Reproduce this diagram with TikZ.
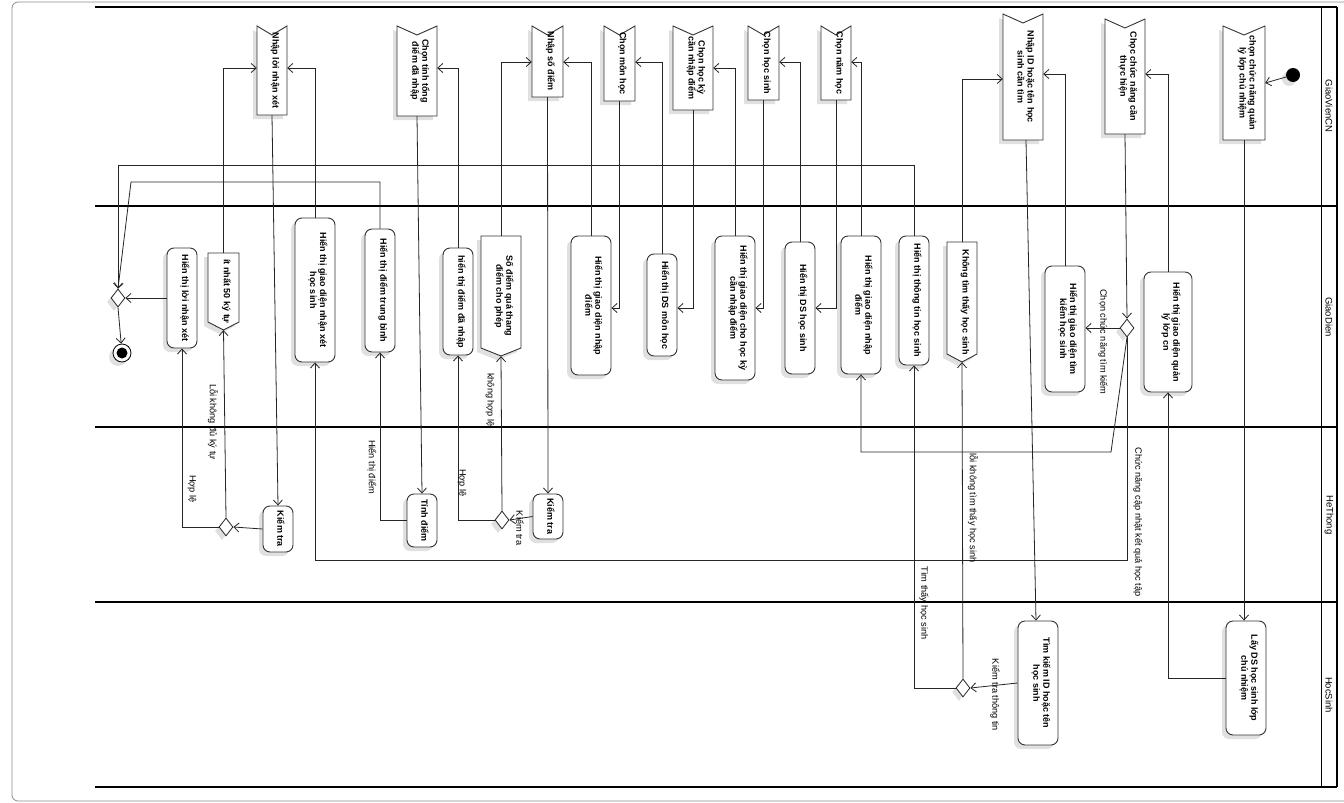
\documentclass[tikz,border=0pt]{standalone}
\usepackage{fontspec}
\setmainfont{Liberation Sans}
\usetikzlibrary{arrows.meta,shapes.geometric,shadows,calc}

\tikzset{
  lane/.style={line width=1.6pt, draw=black},
  shadowed/.style={drop shadow={shadow xshift=-4pt, shadow yshift=-4pt, fill=black!12, opacity=1}},
  act/.style={draw=black!80, line width=0.9pt, rounded corners=7pt, fill=white, shadowed, inner sep=0pt},
  shadefill/.style={fill=black!12},
  sigline/.style={draw=black!80, line width=0.9pt, fill=white},
  ntext/.style={xshift=3pt, rotate=-90, align=center, inner sep=0pt, font=\bfseries\fontsize{9}{10}\selectfont},
  etext/.style={rotate=-90, inner sep=0pt, font=\fontsize{9.2}{10}\selectfont},
  lanetext/.style={rotate=-90, inner sep=0pt, font=\fontsize{9.5}{10}\selectfont},
  decision/.style={diamond, draw=black!85, line width=0.8pt, fill=white, inner sep=0pt,
    minimum width=14pt, minimum height=18pt, shadowed},
  conn/.style={draw=black!85, line width=0.8pt, -{Straight Barb[length=5pt,width=9pt]}},
}

% rounded action: name, cx, cy, width, height, text
\newcommand\actbox[6]{%
  \node[act, minimum width=#4, minimum height=#5, label={[ntext]center:{#6}}] (#1) at (#2,#3) {};}

% accept-event shape, notched at the top: name, cx, cy, width, height, text
\newcommand\acceptsig[6]{%
  \fill[shadefill] ({#2-#4/2-4},{#3-#5/2+4}) -- ({#2-4},{#3-#5/2+13}) -- ({#2+#4/2-4},{#3-#5/2+4})
     -- ({#2+#4/2-4},{#3+#5/2+4}) -- ({#2-#4/2-4},{#3+#5/2+4}) -- cycle;
  \draw[sigline] ({#2-#4/2},{#3-#5/2}) -- ({#2},{#3-#5/2+9}) -- ({#2+#4/2},{#3-#5/2})
     -- ({#2+#4/2},{#3+#5/2}) -- ({#2-#4/2},{#3+#5/2}) -- cycle;
  \node[inner sep=0pt, minimum width=#4, minimum height=#5, label={[ntext]center:{#6}}] (#1) at (#2,#3) {};}

% send-signal shape, pointed at the bottom: name, cx, cy, width, height, text
\newcommand\sendsig[6]{%
  \fill[shadefill] ({#2-#4/2-4},{#3-#5/2+4}) -- ({#2+#4/2-4},{#3-#5/2+4}) -- ({#2+#4/2-4},{#3+#5/2-8+4})
     -- ({#2-4},{#3+#5/2+4}) -- ({#2-#4/2-4},{#3+#5/2-8+4}) -- cycle;
  \draw[sigline] ({#2-#4/2},{#3-#5/2}) -- ({#2+#4/2},{#3-#5/2}) -- ({#2+#4/2},{#3+#5/2-8})
     -- ({#2},{#3+#5/2}) -- ({#2-#4/2},{#3+#5/2-8}) -- cycle;
  \node[inner sep=0pt, minimum width=#4, minimum height=#5, label={[ntext]center:{#6}}] (#1) at (#2,#3) {};}

\begin{document}
\begin{tikzpicture}[x=1pt, y=-1pt]
\useasboundingbox (0,0) rectangle (1344,803);
\fill[white] (0,0) rectangle (1344,803);
\draw[black!45, line width=0.8pt, rounded corners=6pt] (12,2) rectangle (1370,801);

% swimlanes
\draw[lane] (95,7) -- (1337,7);
\draw[lane] (95,206) -- (1337,206);
\draw[lane] (95,427) -- (1337,427);
\draw[lane] (95,602) -- (1337,602);
\draw[lane] (95,787) -- (1337,787);
\draw[lane] (1337,7) -- (1337,787);
\draw[line width=1pt] (1321,7) -- (1321,787);
\node[lanetext] (lnGV) at (1329,106) {GiaoVienCN};
\node[lanetext] (lnGD) at (1329,317) {GiaoDien};
\node[lanetext] (lnHT) at (1329,515) {HeThong};
\node[lanetext] (lnHS) at (1329,695) {HocSinh};

% GiaoVienCN
\acceptsig{A1}{272}{70.5}{30}{89}{Nhập lời nhận xét}
\acceptsig{A2}{417}{71}{40}{90}{Chọn tính tổng\\điểm đã nhập}
\acceptsig{A3}{547.5}{61.5}{31}{71}{Nhập số điểm}
\acceptsig{A4}{619.5}{63.5}{31}{75}{Chọn môn học}
\acceptsig{A5}{693}{68}{40}{84}{Chọn học kỳ\\cần nhập điểm}
\acceptsig{A6}{763.5}{63}{31}{74}{Chọn học sinh}
\acceptsig{A7}{836}{63}{30}{74}{Chọn năm học}
\acceptsig{A8}{1023}{77}{40}{126}{Nhập ID hoặc tên học\\sinh cần tìm}
\acceptsig{A9}{1125}{76.5}{40}{115}{Chọc chức năng cần\\thực hiện}
\acceptsig{A10}{1244}{83}{42}{114}{chọn chức năng quản\\lý lớp chủ nhiệm}
\node[circle, fill=black, minimum size=14pt, inner sep=0pt, shadowed] (init) at (1293,75) {};

% GiaoDien
\node[decision] (M1) at (118,298) {};
\node[circle, draw=black, line width=0.8pt, fill=white, minimum size=18pt, inner sep=0pt, shadowed,
  path picture={\fill[black] (path picture bounding box.center) circle (5.5pt);}] (fin) at (122,353) {};
\actbox{B1}{182}{298}{30}{100}{Hiển thị lời nhận xét}
\sendsig{S1}{223.5}{291.5}{31}{77}{ít nhất 50 ký tự}
\actbox{B2}{315}{290}{40}{144}{Hiển thị giao diện nhận xét\\học sinh}
\actbox{B3}{380}{290.5}{30}{123}{Hiển thị điểm trung bình}
\actbox{B4}{458}{301.5}{30}{107}{hiển thị điểm đã nhập}
\sendsig{S2}{501}{296}{40}{120}{Số điểm quá thang\\điểm cho phép}
\actbox{B5}{591}{305.5}{40}{139}{Hiển thị giao diện nhập\\điểm}
\actbox{B6}{662}{305}{30}{102}{Hiển thị DS môn học}
\actbox{B7}{735}{308}{40}{144}{Hiển thị giao diện cho học kỳ\\cần nhập điểm}
\actbox{B8}{800}{308}{30}{132}{Hiển thị DS học sinh}
\actbox{B9}{861}{305}{40}{138}{Hiển thị giao diện nhập\\điểm}
\actbox{B10}{914}{300.5}{30}{129}{Hiển thị thông tin học sinh}
\sendsig{S3}{962}{302}{30}{120}{Không tìm thấy học sinh}
\actbox{B11}{1065}{329}{40}{126}{Hiển thị giao diện tìm\\kiếm học sinh}
\node[decision] (D2) at (1127,328) {};
\actbox{B12}{1168}{332}{48}{120}{Hiển thị giao diện quản\\lý lớp cn}

% HeThong
\actbox{C1}{278}{529}{30}{46}{Kiểm tra}
\node[decision] (D3) at (226,527) {};
\actbox{C2}{422}{520.5}{30}{53}{Tính điểm}
\node[decision] (D4) at (502,520) {};
\actbox{C3}{548}{516.5}{30}{45}{Kiểm tra}

% HocSinh
\actbox{E1}{1038}{683}{40}{124}{Tìm kiếm ID hoặc tên\\học sinh}
\node[decision] (D5) at (963,688) {};
\actbox{E2}{1246}{678}{40}{114}{Lấy DS học sinh lớp\\chủ nhiệm}

% flows
\draw[conn] (init) -- (A10.east);
\draw[conn] (A10.south) -- (A10.south |- E2.north);
\draw[conn] (E2.west) -| (B12.south);
\draw[conn] (B12.north) |- (A9.east |- 0,74);
\draw[conn] (A9.south) -- (D2.north);
\draw[conn] (D2.west) -- (D2.west -| B11.east);
\draw[conn] (D2.south) -- (1111,452) -| (B9.south);
\draw[conn] (D2.south) |- (B2.south |- 0,560) -- (B2.south);
\draw[conn] (B11.north) |- (A8.east |- 0,74);
\draw[conn] ([xshift=3pt]A8.south) -- ([xshift=-2pt]E1.north);
\draw[conn] (E1.west) -- (D5.east);
\draw[conn] (D5.north) -- (S3.south);
\draw[conn] (D5.west) -| (B10.south);
\draw[conn] (S3.north) |- (A8.west |- 0,79);
\draw[conn] (B10.north) |- (M1.north |- 0,165) -- (M1.north);
\draw[conn] (B3.north) |- (131,182) -- (M1.north);
\draw[conn] (B1.west) -- (M1.east);
\draw[conn] (M1.south) -- (fin);
\draw[conn] (A1.south) -- (C1.north);
\draw[conn] (C1.west) -- (D3.east);
\draw[conn] (D3.north) -- (S1.south);
\draw[conn] (D3.west) -| (B1.south);
\draw[conn] (S1.north) |- (A1.west |- 0,68);
\draw[conn] (B2.north) |- (A1.east |- 0,68);
\draw[conn] (A2.south) -- (C2.north);
\draw[conn] (C2.west) -| (B3.south);
\draw[conn] (B4.north) |- (A2.east |- 0,68);
\draw[conn] (A3.south) -- (C3.north);
\draw[conn] (C3.west) -- (D4.east);
\draw[conn] (D4.north) -- (S2.south);
\draw[conn] (D4.west) -| (B4.south);
\draw[conn] (S2.north) |- (A3.west |- 0,62);
\draw[conn] (B5.north) |- (A3.east |- 0,62);
\draw[conn] (A4.south) |- (B5.east |- 0,308);
\draw[conn] (B6.north) |- (A4.east |- 0,62);
\draw[conn] (A5.south) |- (B6.east |- 0,308);
\draw[conn] (B7.north) |- (A5.east |- 0,68);
\draw[conn] (A6.south) |- (B7.east |- 0,308);
\draw[conn] (B8.north) |- (A6.east |- 0,62);
\draw[conn] (A7.south) |- (B8.east |- 0,308);
\draw[conn] (B9.north) |- (A7.east |- 0,62);

% guard labels
\node[etext] (lb1) at (1103,342) {Chọn chức năng tìm kiếm};
\node[etext] (lb2) at (1138,522) {Chức năng cập nhật kết quả học tập};
\node[etext] (lb3) at (995,695) {Kiểm tra thông tin};
\node[etext] (lb4) at (973,508) {lỗi không tìm thấy học sinh};
\node[etext] (lb5) at (924,603) {Tìm thấy học sinh};
\node[etext] (lb6) at (213,422) {Lỗi không đủ ký tự};
\node[etext] (lb7) at (192,489) {Hợp lệ};
\node[etext] (lb8) at (372,467) {Hiển thị điểm};
\node[etext] (lb9) at (520,528) {Kiểm tra};
\node[etext] (lb10) at (490,400) {không hợp lệ};
\node[etext] (lb11) at (462,483) {Hợp lệ};
\end{tikzpicture}
\end{document}
